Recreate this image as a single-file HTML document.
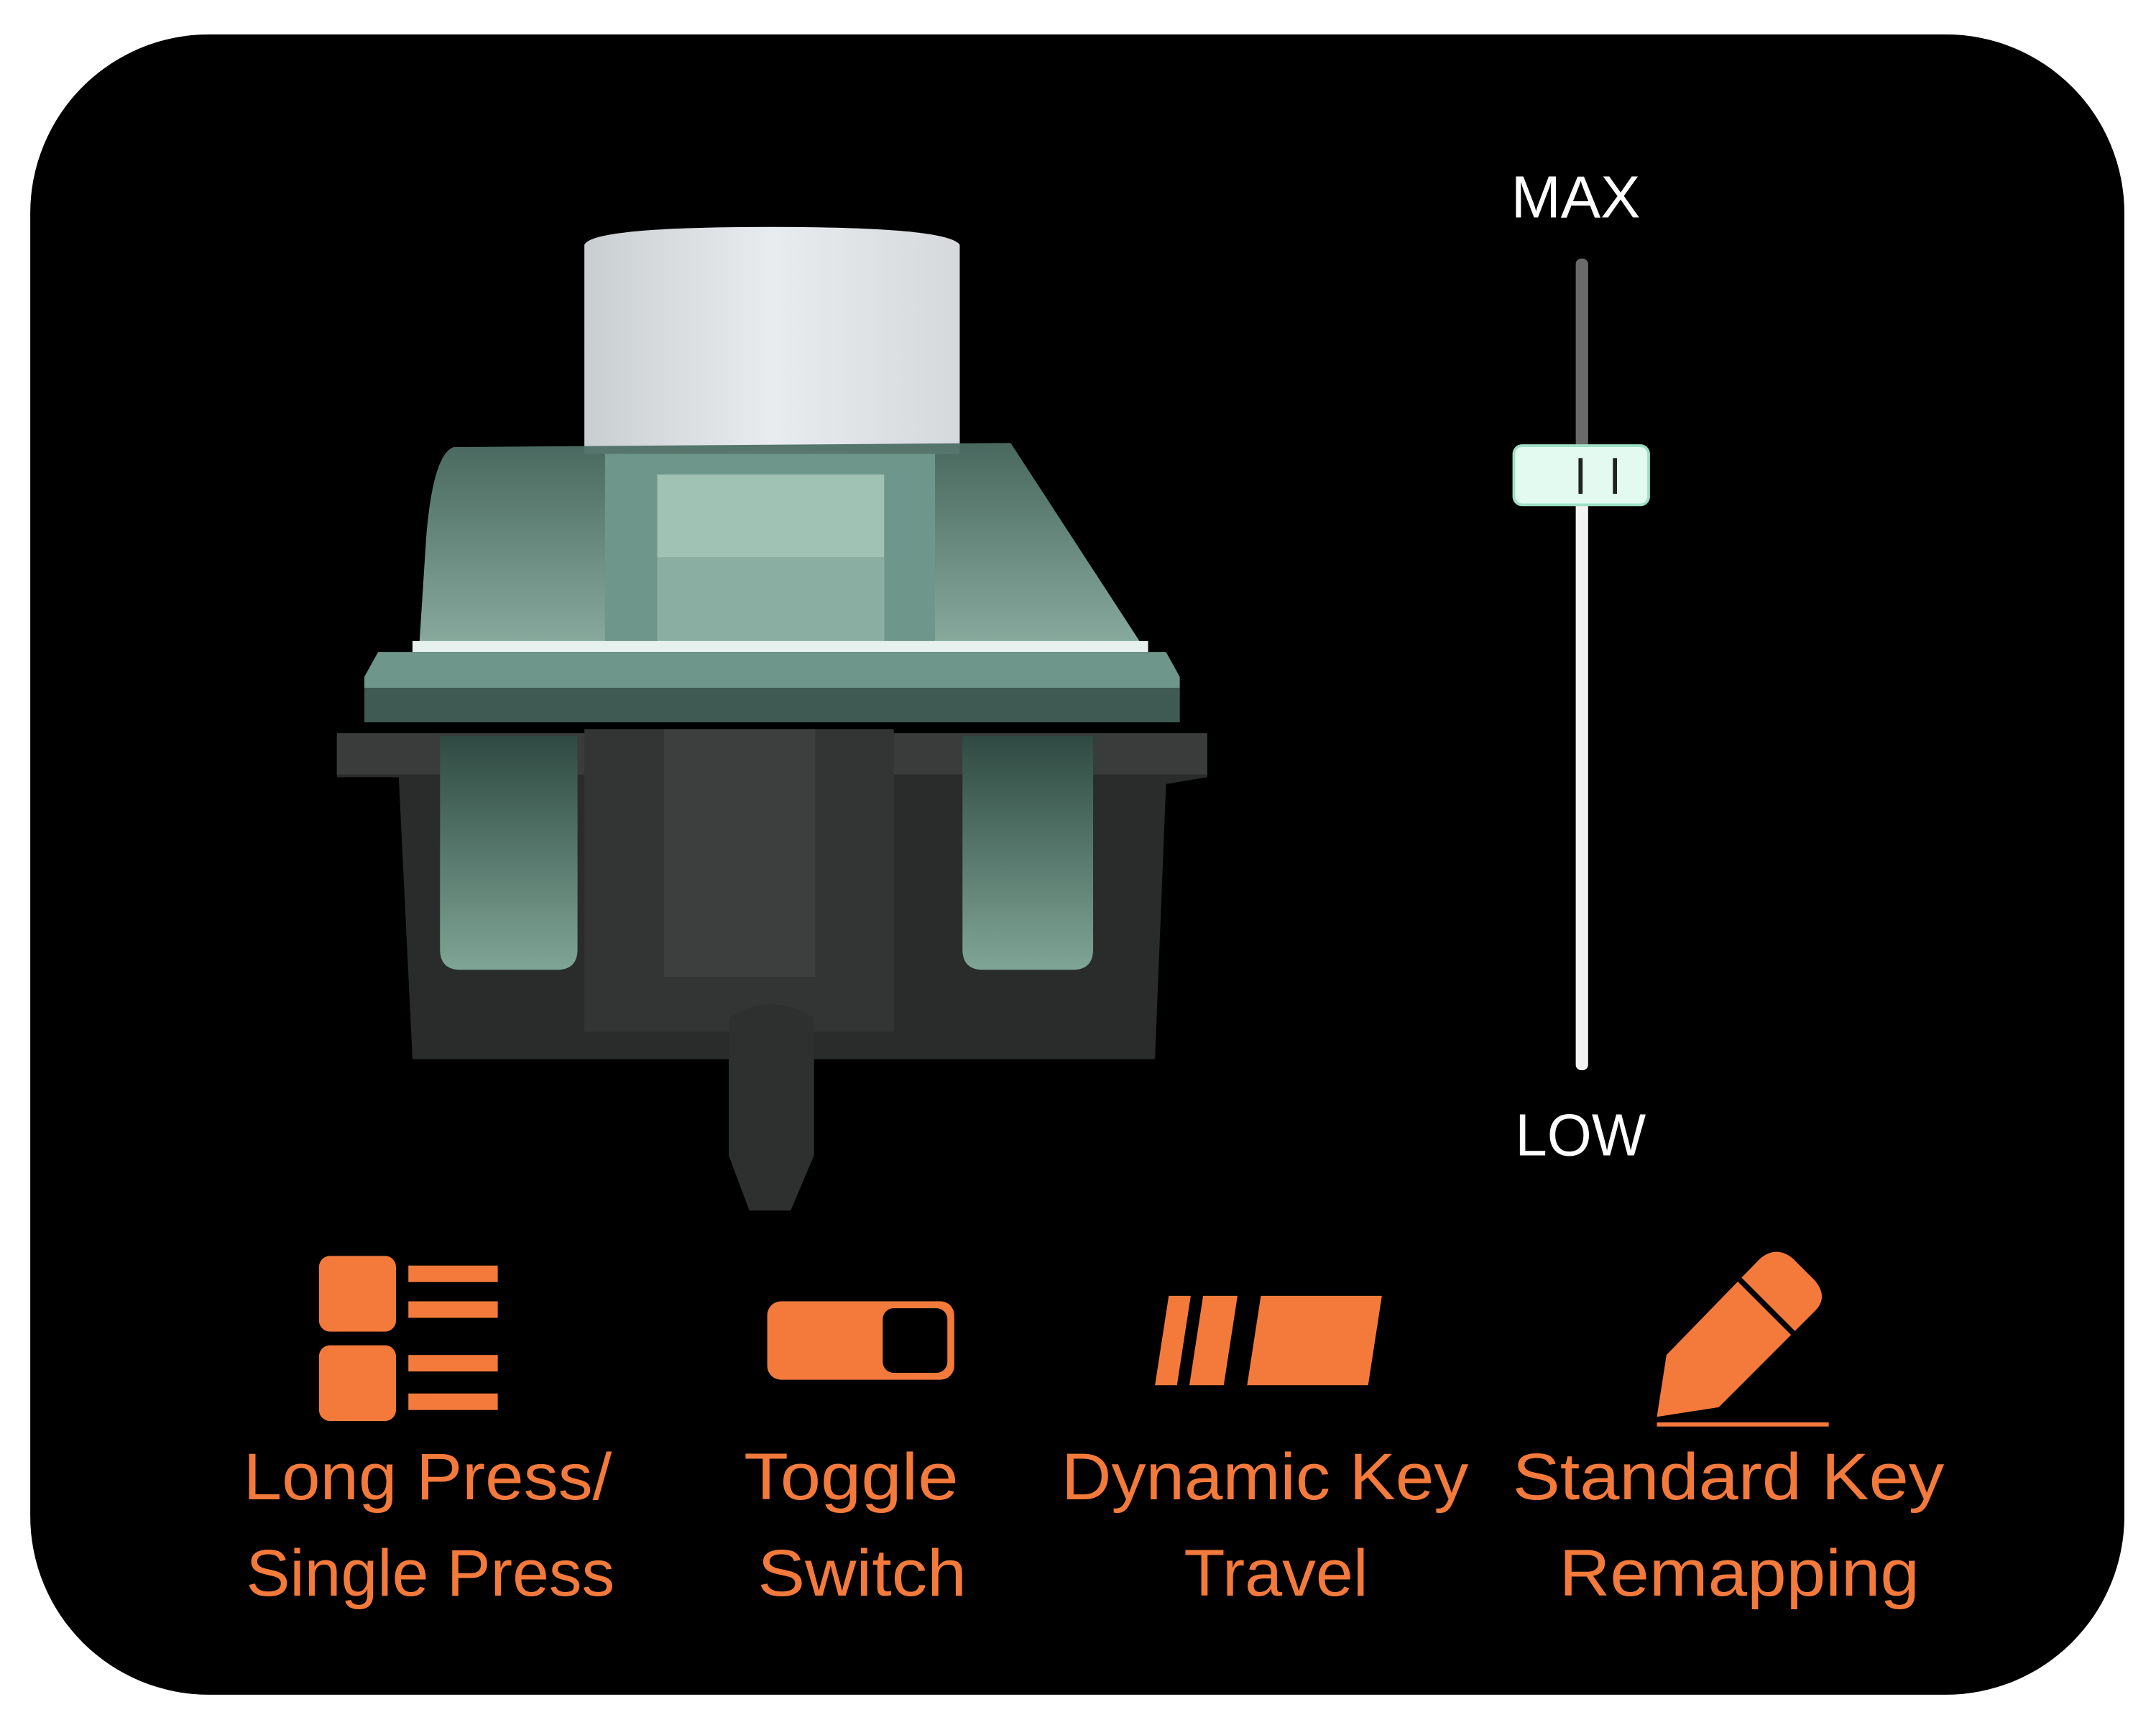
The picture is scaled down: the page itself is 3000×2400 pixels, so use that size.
<!DOCTYPE html>
<html><head><meta charset="utf-8"><style>
html,body{margin:0;padding:0;background:#fff;width:3000px;height:2400px;overflow:hidden}
svg{display:block}
text{font-family:"Liberation Sans",sans-serif}
</style></head><body>
<svg width="3000" height="2400" viewBox="0 0 1568 1254" preserveAspectRatio="none" xmlns="http://www.w3.org/2000/svg">
<defs>
<linearGradient id="stem" x1="0" x2="1"><stop offset="0" stop-color="#c9ced1"/><stop offset="0.5" stop-color="#e8ecee"/><stop offset="1" stop-color="#d5d9db"/></linearGradient>
<linearGradient id="top" x1="0" y1="0" x2="0" y2="1"><stop offset="0" stop-color="#4d6e64"/><stop offset="1" stop-color="#8fb3a6"/></linearGradient>
<linearGradient id="win" x1="0" y1="0" x2="0" y2="1"><stop offset="0" stop-color="#2f4a42"/><stop offset="1" stop-color="#7fa596"/></linearGradient>
</defs>
<rect x="0" y="0" width="1568" height="1254" fill="#fff"/>
<rect x="22" y="25" width="1523" height="1207" rx="130" fill="#000"/>
<!-- switch -->
<path d="M425 178 Q430 165 560 165 Q690 165 698 178 L698 330 L425 330 Z" fill="url(#stem)"/>
<path d="M330 325 L735 322 L830 468 L305 468 L310 390 Q315 330 330 325 Z" fill="url(#top)" opacity="0.95"/>
<rect x="440" y="330" width="240" height="138" fill="#6f968a"/>
<rect x="478" y="345" width="165" height="123" fill="#9fc2b5"/>
<rect x="478" y="405" width="165" height="63" fill="#8aaea1"/>
<rect x="300" y="466" width="535" height="8" fill="#e6f0ec"/>
<path d="M275 474 L848 474 L858 492 L858 525 L265 525 L265 492 Z" fill="#6f968a"/>
<rect x="265" y="500" width="593" height="25" fill="#3f5a52"/>
<path d="M245 535 L878 535 L878 565 L848 570 L840 770 L300 770 L290 565 L245 565 Z" fill="#2a2c2c"/>
<rect x="245" y="533" width="633" height="30" fill="#3a3c3c"/>
<path d="M320 535 L420 535 L420 690 Q420 705 405 705 L335 705 Q320 705 320 690 Z" fill="url(#win)"/>
<path d="M700 535 L795 535 L795 690 Q795 705 780 705 L715 705 Q700 705 700 690 Z" fill="url(#win)"/>
<rect x="425" y="530" width="225" height="220" fill="#333535"/>
<rect x="483" y="530" width="110" height="180" fill="#3d3f3f"/>
<path d="M530 740 Q560 720 592 740 L592 840 L575 880 L545 880 L530 840 Z" fill="#2e3030"/>
<!-- slider -->
<rect x="1146" y="188" width="9" height="145" rx="4" fill="#6a6a6a"/>
<rect x="1146" y="330" width="9" height="448" rx="4" fill="#f4f4f4"/>
<rect x="1101" y="324" width="98" height="43" rx="6" fill="#e3faf0" stroke="#9ee0c6" stroke-width="2"/>
<rect x="1148" y="333" width="3" height="26" fill="#222"/>
<rect x="1173" y="333" width="3" height="26" fill="#222"/>
<text x="1099" y="158" font-size="43" fill="#fff" textLength="94" lengthAdjust="spacingAndGlyphs">MAX</text>
<text x="1102" y="840" font-size="43" fill="#fff" textLength="95" lengthAdjust="spacingAndGlyphs">LOW</text>
<!-- icons -->
<g fill="#f47a3c">
<rect x="232" y="913" width="56" height="55" rx="8"/>
<rect x="232" y="978" width="56" height="55" rx="8"/>
<rect x="297" y="920" width="65" height="12"/>
<rect x="297" y="946" width="65" height="12"/>
<rect x="297" y="985" width="65" height="12"/>
<rect x="297" y="1013" width="65" height="12"/>
<rect x="558" y="946" width="136" height="57" rx="10"/>
<path d="M850 942 L866 942 L856 1007 L840 1007 Z"/>
<path d="M875 942 L900 942 L890 1007 L865 1007 Z"/>
<path d="M917 942 L1005 942 L995 1007 L907 1007 Z"/>
<path d="M1280 915 Q1292 905 1304 915 L1320 931 Q1330 943 1320 953 L1250 1023 L1205 1030 L1212 985 Z"/>
<rect x="1205" y="1034" width="125" height="3"/>
</g>
<rect x="642" y="951" width="47" height="47" rx="8" fill="#000"/>
<path d="M1265 930 L1305 970" stroke="#000" stroke-width="4"/>
<g font-size="48" fill="#f47a3c" lengthAdjust="spacingAndGlyphs">
<text x="177" y="1090" textLength="268" lengthAdjust="spacingAndGlyphs">Long Press/</text>
<text x="179" y="1160" textLength="268" lengthAdjust="spacingAndGlyphs">Single Press</text>
<text x="541" y="1090" textLength="156" lengthAdjust="spacingAndGlyphs">Toggle</text>
<text x="551" y="1160" textLength="152" lengthAdjust="spacingAndGlyphs">Switch</text>
<text x="772" y="1090" textLength="296" lengthAdjust="spacingAndGlyphs">Dynamic Key</text>
<text x="861" y="1160" textLength="134" lengthAdjust="spacingAndGlyphs">Travel</text>
<text x="1100" y="1090" textLength="314" lengthAdjust="spacingAndGlyphs">Standard Key</text>
<text x="1134" y="1160" textLength="262" lengthAdjust="spacingAndGlyphs">Remapping</text>
</g>
</svg>
</body></html>
